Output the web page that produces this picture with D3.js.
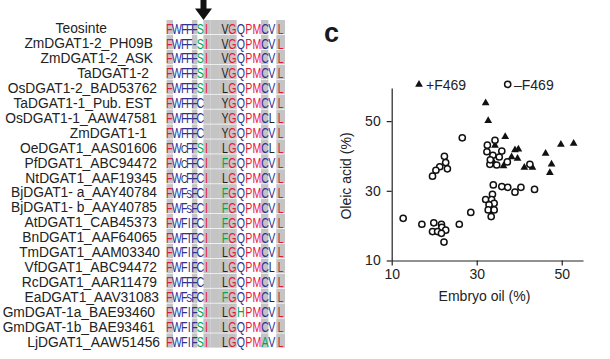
<!DOCTYPE html>
<html><head><meta charset="utf-8">
<script src="https://cdn.jsdelivr.net/npm/d3@7"></script>
<style>
body{margin:0;background:#fff}
text{font-family:"Liberation Sans",Arial,Helvetica,sans-serif}
</style>
</head><body>
<svg id="c" width="610" height="359"></svg>
<script>
// ---------- alignment data ----------
const names = ["Teosinte","ZmDGAT1-2_PH09B","ZmDGAT1-2_ASK","TaDGAT1-2","OsDGAT1-2_BAD53762",
  "TaDGAT1-1_Pub. EST","OsDGAT1-1_AAW47581","ZmDGAT1-1","OeDGAT1_AAS01606","PfDGAT1_ABC94472",
  "NtDGAT1_AAF19345","BjDGAT1- a_AAY40784","BjDGAT1- b_AAY40785","AtDGAT1_CAB45373","BnDGAT1_AAF64065",
  "TmDGAT1_AAM03340","VfDGAT1_ABC94472","RcDGAT1_AAR11479","EaDGAT1_AAV31083","GmDGAT-1a_BAE93460",
  "GmDGAT-1b_BAE93461","LjDGAT1_AAW51456"];
const sequences = ["FWFFFSI VGQPMCVL","FWFF-SI VGQPMCVL","FWFFFSI VGQPMCVL","FWFFFSI VGQPMCVL","FWFFFSI LGQPMCVL",
  "FWFFFC  YGQPMCVL","FWFFFC  YGQPMCLL","FWFFFC  YGQPMCVL","FWCFFSI LGQPMCLL","FWCFFCI FGQPMCVL",
  "FWCFFCI LGQPMCVL","FWFSFCI FGQPMCVL","FWFSFCI FGQPMCVL","FWFIFCI FGQPMCVL","FWFTFCI FGQPMCVL",
  "FWFIFCI LGQPMCVL","FWFIFCI LGQPMCLL","FWFFFC  LGQPMCVL","FWFSFCI FGQPMCLL","FWFIFSI LGHPMCVL",
  "FWFIFSI LGQPMCVL","FWFIFSI LGQPMAVL"];

// ---------- scatter data ----------
const plusOil    = [32.1,32.7,36.7,39.0,39.8,38.2,39.6,36.3,41.2,43.1,46.2,47.6,47.2,49.8,52.8,33.9,34.3];
const plusOleic  = [55.2,50.1,45.5,41.7,41.9,39.7,39.3,37.1,36.7,36.7,40.7,37.6,35.2,43.3,43.6,38.3,43.0];
const minusOil   = [26.6,22.4,22.7,21.3,23.1,20.4,19.6,
  34.3,32.5,32.4,33.8,35.9,35.3,33.1,34.7,37.2,42.5,33.2,
  33.9,35.9,37.3,39.0,40.4,43.6,33.7,32.1,33.5,34.1,32.9,32.7,34.1,33.4,28.6,25.9,
  12.7,17.1,19.9,21.7,21.8,19.6,20.8,22.7,21.7,22.3];
const minusOleic = [45.2,39.9,38.1,36.9,36.3,35.9,34.2,
  44.5,43.1,41.2,40.2,41.4,39.7,37.6,37.4,38.3,37.6,38.9,
  31.7,31.2,31.0,29.6,31.0,30.4,29.0,27.5,27.5,26.4,26.0,24.5,24.5,22.6,23.8,20.4,
  22.1,20.4,20.8,20.4,19.5,18.3,18.3,18.7,17.8,15.3];
const xTicks = [10,30,50];
const yTicks = [10,30,50];
const legendLabels = ["+F469","\u2013F469"];

// ---------- layout ----------
const svg = d3.select("#c");
const RED="#e8173a", BLUE="#2e3192", GREEN="#00a651", DARK="#222222", GREY="#c4c4c4";
const colCenters=[169.2,176.7,184.2,189.2,194.5,200.3,206.5,214.8,225,232.5,240.8,248.7,257,265,271.7,280.8];
const colEdges=[166.5,173,180.5,186.7,191.9,197.4,203.4,210.7,219.9,228.8,236.7,244.8,252.9,261,268.4,276.3,285];
const greyCols=[0,4,6,7,8,9,13,15];
const rowY = d3.scaleLinear().domain([0, names.length-1]).range([33.3, 346.7]);
const nameRight = {"Teosinte":107,"ZmDGAT1-2_PH09B":153,"ZmDGAT1-2_ASK":153,"TaDGAT1-2":149,
  "TaDGAT1-1_Pub. EST":152,"ZmDGAT1-1":147,"TmDGAT1_AAM03340":160,"EaDGAT1_AAV31083":159,
  "GmDGAT-1a_BAE93460":155,"GmDGAT-1b_BAE93461":155,"LjDGAT1_AAW51456":160};
const SX = 0.76;

function resColor(ch,col){
  if(col===0) return RED;
  if(col<=5){ if(ch==="S" && col===5) return GREEN; if(ch==="C" && col===2) return DARK; return BLUE; }
  if(col===6) return RED;
  if(col===8) return ch==="F"?GREEN:DARK;
  if(col===9) return ch==="H"?GREEN:RED;
  if(col===10) return ch==="H"?GREEN:BLUE;
  if(col===11||col===12) return RED;
  if(col===13) return ch==="A"?GREEN:BLUE;
  if(col===14) return ch==="L"?DARK:BLUE;
  return RED;
}

const al = svg.append("g");
sequences.forEach((s,i)=>{
  const y=rowY(i);
  greyCols.forEach(c=>{
    al.append("rect").attr("x",colEdges[c]).attr("y",y-13.3).attr("width",colEdges[c+1]-colEdges[c]).attr("height",14.2).attr("fill",GREY);
  });
});
al.selectAll("text.name").data(names).join("text").attr("class","name")
  .attr("x",d=>nameRight[d]!==undefined?nameRight[d]:157).attr("y",(d,i)=>rowY(i))
  .attr("text-anchor","end").attr("font-size",13.8).attr("fill","#222").text(d=>d);
sequences.forEach((s,i)=>{
  const t = al.append("text").attr("transform",`translate(0,${rowY(i)+0.3}) scale(${SX},1)`)
    .attr("font-size",14).attr("text-anchor","middle");
  s.split("").forEach((ch,c)=>{
    if(ch===" ") return;
    const sp = t.append("tspan").attr("x",colCenters[c]/SX).attr("fill",resColor(ch,c)).text(ch);
    if(c>=2 && c<=4 && (ch==="C"||ch==="S")) sp.attr("font-size",11.5);
  });
});
al.append("path").attr("d","M200.5,0 L206.5,0 L206.5,8.5 L212,8.5 L203.5,20 L195,8.5 L200.5,8.5 Z").attr("fill","#111");

// ---------- scatter ----------
const x = d3.scaleLinear().domain([10,55]).range([391.7,583]);
const y = d3.scaleLinear().domain([10,59.5]).range([260.5,88]);
const g = svg.append("g");
const xa = g.append("g").attr("transform","translate(0,260.5)")
  .call(d3.axisBottom(x).tickValues(xTicks).tickSize(5).tickSizeOuter(0).tickPadding(4));
const ya = g.append("g").attr("transform","translate(391.7,0)")
  .call(d3.axisLeft(y).tickValues(yTicks).tickSize(5).tickSizeOuter(0).tickPadding(6));
[xa,ya].forEach(a=>{
  a.selectAll("path,line").attr("stroke","#222").attr("stroke-width",1.2);
  a.selectAll("text").attr("font-size",14).attr("fill","#222").attr("font-family","Liberation Sans, Arial, sans-serif");
});
g.append("text").attr("x",484.5).attr("y",301).attr("text-anchor","middle").attr("font-size",14).attr("fill","#222").text("Embryo oil (%)");
g.append("text").attr("transform","translate(351,176) rotate(-90)").attr("text-anchor","middle").attr("font-size",14).attr("fill","#222").text("Oleic acid (%)");
svg.append("text").attr("x",324).attr("y",42).attr("font-size",27).attr("font-weight","bold").attr("fill","#1a1a1a").text("c");

const tri = d3.symbol().type(d3.symbolTriangle).size(26);
g.selectAll("path.p").data(plusOil).join("path").attr("class","p")
  .attr("d",tri).attr("transform",(d,i)=>`translate(${x(d)},${y(plusOleic[i])})`).attr("fill","#111");
g.selectAll("circle.m").data(minusOil).join("circle").attr("class","m")
  .attr("cx",d=>x(d)).attr("cy",(d,i)=>y(minusOleic[i])).attr("r",3.1)
  .attr("fill","#fff").attr("stroke","#111").attr("stroke-width",1.5);

svg.append("path").attr("d",tri).attr("transform","translate(419,84.5)").attr("fill","#111");
svg.append("text").attr("x",426).attr("y",90).attr("font-size",14).attr("fill","#222").text(legendLabels[0]);
svg.append("circle").attr("cx",507.7).attr("cy",84.3).attr("r",3.1).attr("fill","#fff").attr("stroke","#111").attr("stroke-width",1.5);
svg.append("text").attr("x",514).attr("y",90).attr("font-size",14).attr("fill","#222").text(legendLabels[1]);
</script>
</body></html>
